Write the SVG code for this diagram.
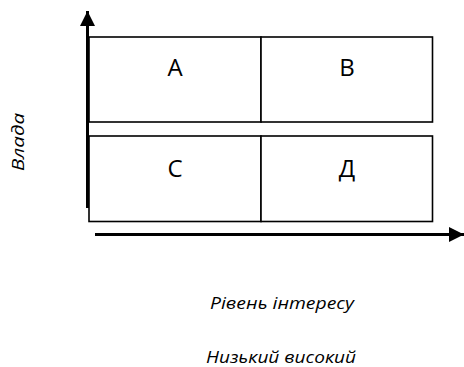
<svg xmlns="http://www.w3.org/2000/svg" width="464" height="367" viewBox="0 0 464 367">
  <style>
    .cell { fill: #fff; stroke: #000; stroke-width: 1.6; }
    .axis { stroke: #000; stroke-width: 3; fill: none; }
    .big { font-family: "Open Sans", "Liberation Sans", sans-serif; font-size: 24px; fill: #000; text-anchor: middle; }
    .lbl { font-family: "Open Sans", "Liberation Sans", sans-serif; font-size: 16.5px; font-style: italic; fill: #000; text-anchor: middle; }
  </style>
  <defs>
    <marker id="arrow" viewBox="0 0 10 10" refX="10" refY="5" markerWidth="5" markerHeight="5" markerUnits="strokeWidth" orient="auto">
      <path d="M0,0 L10,5 L0,10 Z" fill="#000"/>
    </marker>
  </defs>
  <rect width="464" height="367" fill="#fff"/>

  <!-- quadrant cells -->
  <g id="cell-a"><rect class="cell" x="89" y="37" width="172" height="85"/><text class="big" x="175" y="76">A</text></g>
  <g id="cell-b"><rect class="cell" x="261" y="37" width="171.5" height="85"/><text class="big" x="347" y="76">B</text></g>
  <g id="cell-c"><rect class="cell" x="89" y="136" width="172" height="85.5"/><text class="big" x="175" y="177">C</text></g>
  <g id="cell-d"><rect class="cell" x="261" y="136" width="171.5" height="85.5"/><text class="big" x="347" y="177">Д</text></g>

  <!-- axes -->
  <g id="connectors">
    <line class="axis" x1="87.5" y1="208" x2="87.5" y2="11" marker-end="url(#arrow)"/>
    <line class="axis" x1="95" y1="234.5" x2="464" y2="234.5" marker-end="url(#arrow)"/>
  </g>

  <!-- axis labels -->
  <g id="label-power"><text class="lbl" transform="translate(24,142) rotate(-90)" textLength="58" lengthAdjust="spacingAndGlyphs">Влада</text></g>
  <g id="label-interest"><text class="lbl" x="282" y="308.5" textLength="144" lengthAdjust="spacingAndGlyphs">Рівень інтересу</text></g>
  <g id="label-scale"><text class="lbl" x="281" y="362.5" textLength="150" lengthAdjust="spacingAndGlyphs">Низький високий</text></g>
</svg>
